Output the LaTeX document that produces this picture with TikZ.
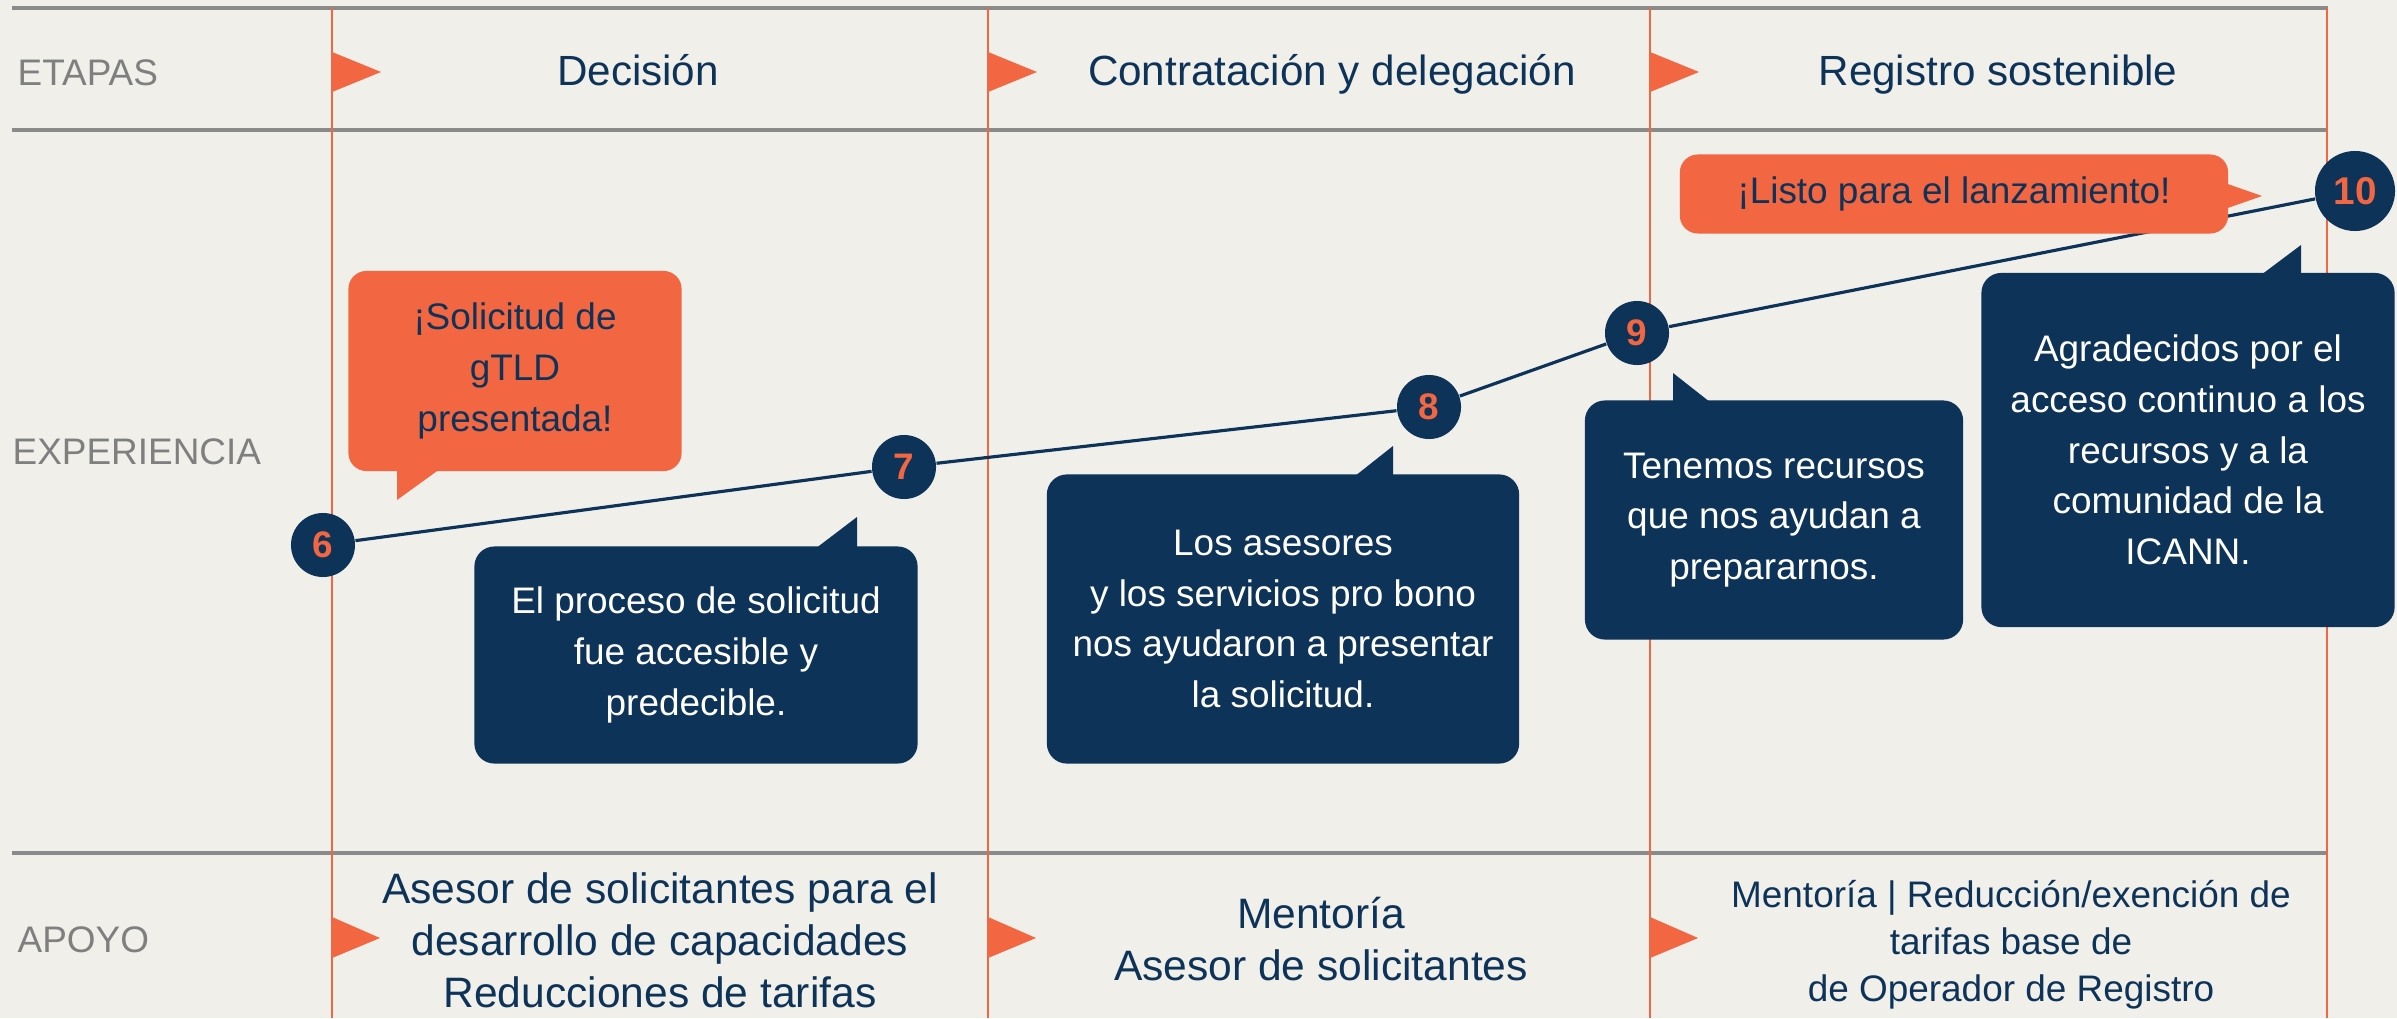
\documentclass[tikz,border=0pt]{standalone}
\usepackage{fontspec}
\setmainfont{Liberation Sans}
\usetikzlibrary{positioning}
\definecolor{bgcream}{HTML}{F0EFEA}
\definecolor{icnavy}{HTML}{0E3358}
\definecolor{icorange}{HTML}{F26641}
\definecolor{rulegray}{HTML}{8A8A8A}
\definecolor{labelgray}{HTML}{7F7F7F}

\begin{document}
\begin{tikzpicture}[x=0.01cm,y=-0.01cm,line join=round]
    \tikzstyle{rowlab}=[anchor=base west,inner sep=0pt,text=labelgray,font=\fontsize{10.5}{12}\selectfont]
    \tikzstyle{stage}=[anchor=base,inner sep=0pt,text=icnavy,font=\fontsize{12}{14}\selectfont]
    \tikzstyle{support}=[align=center,inner sep=0pt,text=icnavy,font=\fontsize{12.1}{14.8}\selectfont]
    \tikzstyle{milestone}=[circle,fill=icnavy,text=icorange,minimum size=0.64cm,inner sep=0pt,font=\bfseries\fontsize{10.5}{12}\selectfont]
    \tikzstyle{navybox}=[fill=icnavy,text=white,rounded corners=0.2cm,align=center,inner sep=0pt,font=\fontsize{10.5}{14.4}\selectfont]
    \tikzstyle{orangebox}=[fill=icorange,text=icnavy,rounded corners=0.18cm,align=center,inner sep=0pt,font=\fontsize{10.5}{14.4}\selectfont]
    \tikzstyle{gridrule}=[rulegray,line width=0.9pt]
    \tikzstyle{stageline}=[icorange,line width=0.75pt]
    \tikzstyle{journey}=[icnavy,line width=0.9pt]

    \useasboundingbox (0,0) rectangle (2397,1018);
    \fill[bgcream] (0,0) rectangle (2397,1018);

    \foreach \yy in {8,130,853}
        \draw[gridrule] (12,\yy) -- (2328,\yy);
    \foreach \xx in {332,988,1650,2327}
        \draw[stageline] (\xx,8) -- (\xx,1018);
    \foreach \xx in {332,988,1650} {
        \fill[icorange] (\xx,52) -- (\xx+49,72) -- (\xx,92) -- cycle;
        \fill[icorange] (\xx,917) -- (\xx+48,938) -- (\xx,958) -- cycle;
    }

    \node[rowlab] (etapas) at (17,85) {ETAPAS};
    \node[rowlab] (experiencia) at (12,464) {EXPERIENCIA};
    \node[rowlab] (apoyo) at (17,952) {APOYO};

    \node[stage] (decision) at (638,85) {Decisión};
    \node[stage] (contrato) at (1332,85) {Contratación y delegación};
    \node[stage] (registro) at (1998,85) {Registro sostenible};

    \node[milestone] (s6) at (323,545) {6};
    \node[milestone] (s7) at (904,467) {7};
    \node[milestone] (s8) at (1429,407) {8};
    \node[milestone] (s9) at (1637,333) {9};
    \node[milestone,minimum size=0.8cm,font=\bfseries\fontsize{11}{12}\selectfont] (s10) at (2355,191) {10};
    \draw[journey] (s6) -- (s7) -- (s8) -- (s9) -- (s10);

    \node[orangebox,minimum width=3.33cm,minimum height=2.0cm] (c6) at (515,371)
        {¡Solicitud de\\gTLD\\presentada!};
    \fill[icorange] (397,466) -- (397,500) -- (444,466) -- cycle;

    \node[navybox,minimum width=4.43cm,minimum height=2.17cm] (c7) at (696,655)
        {El proceso de solicitud\\fue accesible y\\predecible.};
    \fill[icnavy] (857,552) -- (857,517) -- (811,552) -- cycle;

    \node[navybox,minimum width=4.72cm,minimum height=2.89cm] (c8) at (1283,619)
        {Los asesores\\y los servicios pro bono\\nos ayudaron a presentar\\la solicitud.};
    \fill[icnavy] (1393,480) -- (1393,446) -- (1350,480) -- cycle;

    \node[navybox,minimum width=3.78cm,minimum height=2.39cm] (c9) at (1774,520)
        {Tenemos recursos\\que nos ayudan a\\prepararnos.};
    \fill[icnavy] (1673,406) -- (1673,373) -- (1715,406) -- cycle;

    \node[navybox,minimum width=4.13cm,minimum height=3.54cm] (c10) at (2188,450)
        {Agradecidos por el\\acceso continuo a los\\recursos y a la\\comunidad de la\\ICANN.};
    \fill[icnavy] (2301,278) -- (2301,245) -- (2257,278) -- cycle;

    \node[orangebox,minimum width=5.48cm,minimum height=0.79cm] (listo) at (1954,194)
        {¡Listo para el lanzamiento!};
    \fill[icorange] (2222,182) -- (2262,196) -- (2222,210) -- cycle;

    \node[support] (apoyo1) at (660,940)
        {Asesor de solicitantes para el\\desarrollo de capacidades\\Reducciones de tarifas};
    \node[support] (apoyo2) at (1321,939) {Mentoría\\Asesor de solicitantes};
    \node[support,font=\fontsize{10.5}{13.4}\selectfont] (apoyo3) at (2011,945)
        {Mentoría | Reducción/exención de\\tarifas base de\\de Operador de Registro};
\end{tikzpicture}
\end{document}
